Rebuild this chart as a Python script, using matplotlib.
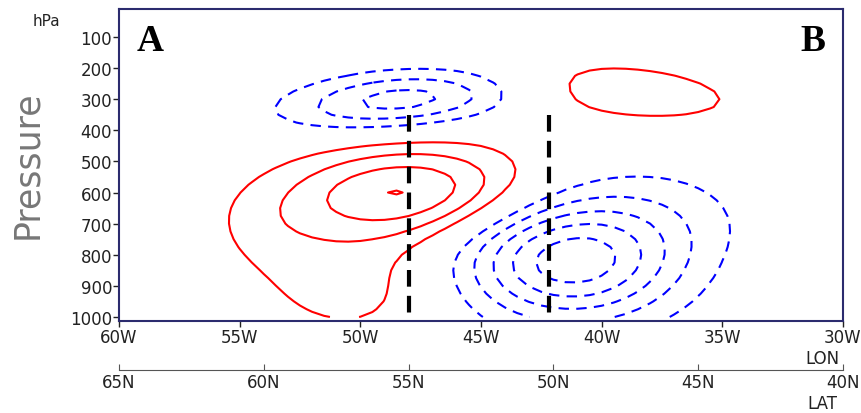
import numpy as np
import matplotlib
matplotlib.use("Agg")
import matplotlib.pyplot as plt

# blobs (lon in deg east, i.e. -48 = 48W; p in hPa)
amp     = [4.02,  1.35,  0.7,   -5.6,  -1.0,  -3.5,  1.7]
lon0    = [-48.2, -50.4, -54.0, -41.3, -37.5, -48.3, -39.0]
p0      = [597,   900,   720,   823,   660,   302,   275]
sig_lon = [3.5,   3.0,   2.0,   3.1,   3.0,   3.35,  3.8]
sig_p   = [105,   140,   110,   135,   120,   64,    75]
tilt_p  = [-3,    0,     0,     0,     0,     -6,    7]     # hPa shift per degree lon

levels_pos = [1, 2, 3, 4]
levels_neg = [-5, -4, -3, -2, -1]

lon_ticks = [-60, -55, -50, -45, -40, -35, -30]
lon_labels = ["60W", "55W", "50W", "45W", "40W", "35W", "30W"]
lat_ticks = [65, 60, 55, 50, 45, 40]
lat_labels = ["65N", "60N", "55N", "50N", "45N", "40N"]
p_ticks = [100, 200, 300, 400, 500, 600, 700, 800, 900, 1000]

# section markers (lon, top pressure)
mark_lon = [-48.0, -42.2]
mark_top = [350, 350]

lon = np.arange(-60, -29.75, 0.5)
plev = np.arange(100, 1001, 25.0)
X, P = np.meshgrid(lon, plev)
Z = np.zeros_like(X)
for a, x0, pp, sx, sp, tp in zip(amp, lon0, p0, sig_lon, sig_p, tilt_p):
    dx = X - x0
    dp = P - pp - tp * dx
    Z += a * np.exp(-0.5 * ((dx / sx) ** 2 + (dp / sp) ** 2))

W, H = 862, 414
fig = plt.figure(figsize=(W / 100, H / 100), dpi=100)
ax = fig.add_axes([119 / W, 1 - 322 / H, (843 - 119) / W, (322 - 10) / H])

ax.contour(X, P, Z, levels=levels_pos, colors="red", linewidths=1.5, linestyles="solid")
cn = ax.contour(X, P, Z, levels=levels_neg, colors="blue", linewidths=1.5, linestyles="solid")
cn.set_linestyle((0, (5, 3.5)))

for xm, pt in zip(mark_lon, mark_top):
    ax.plot([xm, xm], [pt, 1013], color="black", lw=3, ls=(0, (4, 2.2)))

ax.set_xlim(-60, -30)
ax.set_ylim(1013, 10)
ax.set_xticks(lon_ticks)
ax.set_xticklabels(lon_labels)
ax.set_yticks(p_ticks)
ax.tick_params(labelsize=12, labelcolor="#222222", color="#222222", length=4, width=1, pad=1)
for s in ax.spines.values():
    s.set_color("#2b2b6e")
    s.set_linewidth(1.5)

ax.text(0.024, 0.955, "A", transform=ax.transAxes, family="Liberation Serif",
        fontweight="bold", fontsize=27, va="top", ha="left")
ax.text(0.976, 0.955, "B", transform=ax.transAxes, family="Liberation Serif",
        fontweight="bold", fontsize=27, va="top", ha="right")

fig.text(46 / W, 1 - 21 / H, "hPa", fontsize=11, color="#222222", ha="center", va="center")
fig.text(27 / W, 1 - 165 / H, "Pressure", fontsize=25, color="#777777", rotation=90,
         ha="center", va="center")
fig.text(822 / W, 1 - 359 / H, "LON", fontsize=12, color="#222222", ha="center", va="center")
fig.text(822 / W, 1 - 404 / H, "LAT", fontsize=12, color="#222222", ha="center", va="center")

# latitude axis under the longitude axis
sec = ax.secondary_xaxis("bottom", functions=(lambda x: 65 - (x + 60) * 25 / 30,
                                             lambda y: -60 + (65 - y) * 30 / 25))
sec.spines["bottom"].set_position(("outward", 35.5))
sec.spines["bottom"].set_color("#555555")
sec.set_xticks(lat_ticks)
sec.set_xticklabels(lat_labels)
sec.tick_params(direction="in", labelsize=12, labelcolor="#222222", color="#555555", length=4, pad=2)

fig.savefig("out.png", dpi=100)
